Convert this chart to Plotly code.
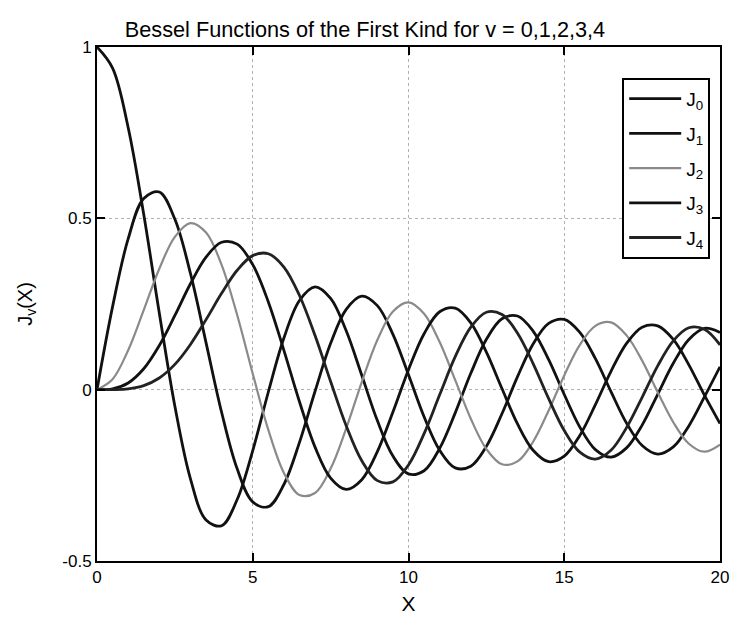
import plotly.graph_objects as go

x_vals = [i * 0.5 for i in range(41)]

J0 = [1.0, 0.9385, 0.7652, 0.5118, 0.2239, -0.0484, -0.2601, -0.3801, -0.3971, -0.3205,
      -0.1776, -0.0068, 0.1506, 0.2601, 0.3001, 0.2663, 0.1717, 0.0419, -0.0903, -0.1939,
      -0.2459, -0.2366, -0.1712, -0.0677, 0.0477, 0.1469, 0.2069, 0.2150, 0.1711, 0.0875,
      -0.0142, -0.1092, -0.1749, -0.1971, -0.1699, -0.1034, -0.0134, 0.0769, 0.1466, 0.1789,
      0.1670]
J1 = [0.0, 0.2423, 0.4401, 0.5579, 0.5767, 0.4971, 0.3391, 0.1374, -0.0660, -0.2311,
      -0.3276, -0.3414, -0.2767, -0.1538, -0.0047, 0.1352, 0.2346, 0.2731, 0.2453, 0.1613,
      0.0435, -0.0789, -0.1768, -0.2284, -0.2234, -0.1655, -0.0703, 0.0380, 0.1334, 0.1934,
      0.2051, 0.1672, 0.0904, -0.0057, -0.0977, -0.1630, -0.1880, -0.1672, -0.1057, -0.0211,
      0.0668]
J2 = [0.0, 0.0306, 0.1149, 0.2321, 0.3528, 0.4461, 0.4861, 0.4586, 0.3641, 0.2178,
      0.0466, -0.1173, -0.2429, -0.3074, -0.3014, -0.2303, -0.1130, 0.0223, 0.1448, 0.2279,
      0.2546, 0.2216, 0.1390, 0.0279, -0.0849, -0.1734, -0.2177, -0.2094, -0.1520, -0.0608,
      0.0416, 0.1308, 0.1862, 0.1964, 0.1584, 0.0848, -0.0075, -0.0950, -0.1577, -0.1811,
      -0.1603]
J3 = [0.0, 0.0026, 0.0196, 0.0610, 0.1289, 0.2166, 0.3091, 0.3868, 0.4302, 0.4247,
      0.3648, 0.2561, 0.1148, -0.0353, -0.1676, -0.2581, -0.2911, -0.2627, -0.1809, -0.0653,
      0.0584, 0.1633, 0.2273, 0.2381, 0.1951, 0.1095, 0.0033, -0.1001, -0.1768, -0.2102,
      -0.1940, -0.1336, -0.0438, 0.0535, 0.1349, 0.1824, 0.1863, 0.1467, 0.0725, -0.0161,
      -0.0989]
J4 = [0.0, 0.0002, 0.0025, 0.0118, 0.0340, 0.0738, 0.1320, 0.2044, 0.2811, 0.3485,
      0.3912, 0.3967, 0.3576, 0.2748, 0.1578, 0.0238, -0.1054, -0.2077, -0.2655, -0.2691,
      -0.2196, -0.1283, -0.0150, 0.0963, 0.1825, 0.2260, 0.2193, 0.1649, 0.0762, -0.0262,
      -0.1192, -0.1825, -0.2026, -0.1769, -0.1107, -0.0223, 0.0696, 0.1426, 0.1806, 0.1761,
      0.1306]

series = [J0, J1, J2, J3, J4]
names = ["J<sub>0</sub>", "J<sub>1</sub>", "J<sub>2</sub>", "J<sub>3</sub>", "J<sub>4</sub>"]
colors = ["#111111", "#111111", "#8a8a8a", "#111111", "#222222"]
widths = [2.8, 2.8, 2.2, 2.8, 2.8]

x_ticks = [0, 5, 10, 15, 20]
y_ticks = [-0.5, 0, 0.5, 1]
y_tick_text = ["-0.5", "0", "0.5", "1"]

FONT = "Liberation Sans, Arial, Helvetica, sans-serif"

fig = go.Figure()
for i, (s, n, c, w) in enumerate(zip(series, names, colors, widths)):
    fig.add_trace(go.Scatter(x=x_vals, y=s, name=n, mode="lines", legendgroup=f"g{i}",
                             line=dict(color=c, width=w, shape="spline", smoothing=1.0)))

axis_common = dict(
    showline=True, linecolor="black", linewidth=2, mirror="ticks",
    ticks="inside", ticklen=8, tickwidth=1.5, tickcolor="black",
    showgrid=True, gridcolor="#b0b0b0", griddash="dot", gridwidth=1,
    zeroline=False, automargin=False,
    tickfont=dict(family=FONT, size=17, color="black"),
)

fig.update_layout(
    width=731, height=622,
    margin=dict(l=97, r=11, t=47, b=61),
    paper_bgcolor="white", plot_bgcolor="white",
    font=dict(family=FONT, color="black"),
    title=dict(text="Bessel Functions of the First Kind for v = 0,1,2,3,4",
               x=365 / 731, xanchor="center", xref="container", y=0.952, yanchor="middle",
               font=dict(family=FONT, size=21.7, color="black")),
    xaxis=dict(range=[0, 20], tickvals=x_ticks, ticktext=[str(t) for t in x_ticks],
               title=dict(text="X", font=dict(family=FONT, size=21), standoff=10),
               **axis_common),
    yaxis=dict(range=[-0.5, 1], tickvals=y_ticks, ticktext=y_tick_text,
               title=dict(text="J<sub>v</sub>(X)", font=dict(family=FONT, size=20), standoff=24),
               **axis_common),
    legend=dict(x=0.843, y=0.94, xanchor="left", yanchor="top",
                bordercolor="black", borderwidth=2, bgcolor="white",
                font=dict(family=FONT, size=19, color="black"),
                tracegroupgap=7, itemwidth=52),
    showlegend=True,
)

# remove the browser's default body margin so the figure fills the window exactly
fig.write_html("out.html",
               config={"displayModeBar": False},
               post_script="document.body.style.margin='0';document.body.style.overflow='hidden';")
